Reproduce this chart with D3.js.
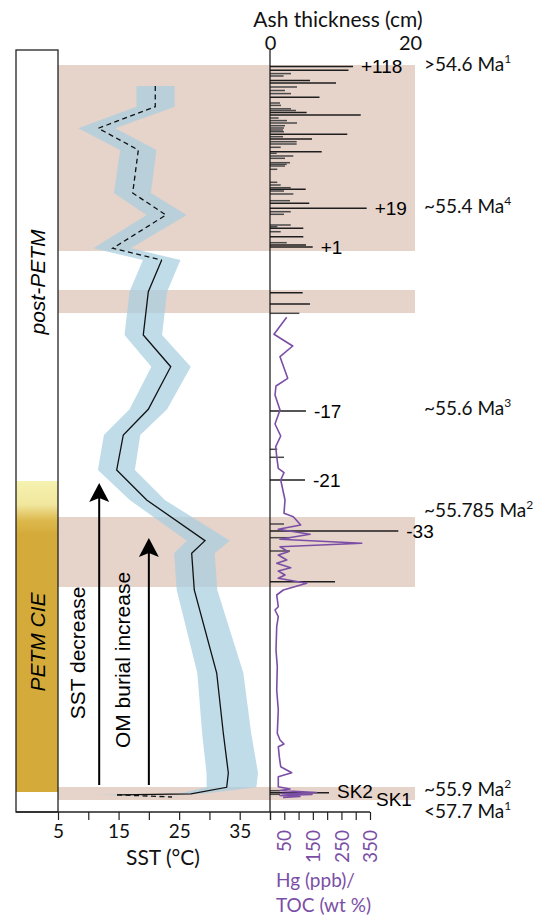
<!DOCTYPE html>
<html>
<head>
<meta charset="utf-8">
<script src="https://cdn.jsdelivr.net/npm/d3@7"></script>
<style>
  body { margin: 0; background: #fff; }
  svg { display: block; }
</style>
</head>
<body>
<div id="root"></div>
<script>
const width = 541;
const height = 918;

// depth below top of logged section (m) and SST (°C) with error envelope
const sstDepth = [3.6, 5.67, 7.83, 10, 14.3, 16.5, 19.83, 21, 24.17, 28.5, 31.67, 35.93, 38.5, 42, 45,
  49.07, 50.33, 54, 62.3, 68.3, 72.3, 73.73, 74.38, 74.48, 74.7];
const sstValue = [21.06, 21.06, 11.65, 18.26, 17.33, 22.83, 14.03, 22.12, 19.91, 19.08, 23.61, 19.91, 15.78, 14.69, 19.64,
  29.27, 27.07, 27.5, 31.2, 32.29, 33.12, 32.85, 26.96, 14.74, 23.82];
const sstErrLo = [3.1, 3.1, 3.3, 3.0, 3.1, 3.2, 3.2, 3.1, 3.1, 3.1, 3.2, 3.1, 3.2, 3.1, 2.8,
  3.0, 2.9, 2.9, 3.2, 3.5, 3.6, 3.3, 2.0, 3.0, 1.0];
const sstErrHi = [3.2, 3.2, 2.8, 3.0, 3.0, 3.4, 3.0, 3.1, 3.1, 3.1, 3.3, 3.1, 2.8, 3.0, 3.0,
  4.1, 3.8, 3.8, 4.4, 4.6, 4.9, 4.9, 2.0, 0.5, 1.0];
// index ranges: dashed (post-PETM), solid, dashed (pre-PETM)
const sstSegments = [[0, 7, true], [7, 23, false], [23, 24, true]];

// ash layers: depth (m) and thickness (cm)
const ashDepth = [1.65, 2.03, 2.36, 2.6, 3.04, 3.3, 3.7, 4.05, 4.36, 4.73, 5.3, 5.54, 5.88, 6.05, 6.25, 6.49,
  6.8, 7.06, 7.3, 7.57, 7.8, 8.0, 8.17, 8.43, 8.67, 8.9, 9.17, 9.4, 9.73, 10.17, 10.33, 10.6, 10.83,
  11.27, 11.43, 11.6, 11.93, 13.23, 13.5, 13.77, 13.93, 14.1, 14.4, 15.07, 15.33, 15.83, 16.17, 16.43,
  17.5, 17.67, 17.83, 18.17, 18.67, 19.27, 19.5, 19.7,
  24.27, 25.4, 26.33, 36.1, 39.93, 40.73, 43.0,
  47.4, 48.1, 48.77, 50.1, 53.17, 74.07, 74.27, 74.43];
const ashThick = [11.86, 11.21, 3.0, 1.94, 5.71, 9.43, 3.86, 2.14, 3.0, 7.07, 1.43, 1.57, 3.0, 3.71, 5.23, 12.96,
  1.23, 2.43, 3.86, 2.14, 2.0, 1.86, 2.0, 11.04, 1.86, 6.0, 3.81, 3.81, 1.53, 7.39, 0.96, 3.33, 2.14,
  2.86, 2.39, 2.14, 1.04, 1.04, 1.53, 2.96, 5.1, 2.0, 3.33, 2.86, 5.61, 13.81, 2.96, 2.0,
  2.96, 1.04, 4.76, 1.53, 4.76, 2.39, 5.14, 6.1,
  4.67, 5.71, 4.19, 5.14, 1.04, 2.0, 5.0,
  2.0, 18.33, 2.86, 2.86, 9.29, 1.43, 8.43, 1.43];

// ash layer notes
const noteText = ['+118', '+19', '+1', '-17', '-21', '-33', 'SK2', 'SK1'];
const noteDepth = [1.65, 15.83, 19.7, 36.1, 43.0, 48.1, 74.1, 74.95];
const noteCm = [11.86, 13.81, 6.1, 5.14, 5.0, 18.33, 8.43, 14.0];

// Hg/TOC (ppb / wt %)
const hgDepth = [26.73, 28.43, 29.6, 30.67, 32.83, 33.6, 34.5, 36, 37.4, 38.6, 39.67, 40.67, 41.83, 42.27, 43,
  45, 46.33, 46.67, 47.5, 47.93, 48.43, 48.93, 49.33, 49.67, 50.17, 50.5, 51, 51.33, 51.77, 52.1, 52.5,
  52.83, 53.33, 54, 54.5, 55.67, 56, 56.67, 57.67, 60, 61.67, 64, 66, 68.33, 69, 69.4, 69.67, 70.67,
  71.67, 72.27, 72.67, 73.67, 73.9, 74.05, 74.25, 74.35, 74.45, 74.55, 74.65, 74.75];
const hgValue = [58.5, 14, 79.5, 35, 62, 21, 17.5, 35, 17.5, 37.5, 20, 23.5, 29, 49, 37.5,
  52.5, 49, 81.5, 107.5, 29, 140, 35, 321, 35, 64, 29, 58.5, 23.5, 72.5, 29, 52.5,
  29, 128.5, 46.5, 23.5, 29, 17.5, 29, 23.5, 21, 25.5, 23.5, 29, 25.5, 35, 49, 29, 32.5,
  37.5, 76, 29, 29, 70, 35, 163, 42, 147, 35, 105, 45.5];

// intervals
const ashBands = [[1.5, 20.1], [24.0, 26.3], [46.7, 53.7], [73.7, 75.0]];
const cieTop = 43.1, cieFull = 47.0, cieBase = 74.2;

// ages
const ageText = ['>54.6 Ma', '~55.4 Ma', '~55.6 Ma', '~55.785 Ma', '~55.9 Ma', '<57.7 Ma'];
const ageSup = ['1', '4', '3', '2', '2', '1'];
const ageDepth = [2.1, 16.3, 36.5, 46.7, 74.6, 76.8];

// trend arrows (SST x position, base depth, tip depth) and labels
const arrowSst = [11.8, 20.0];
const arrowTip = [43.3, 48.8];
const arrowBase = 73.5;
const arrowText = ['SST decrease', 'OM burial increase'];
const arrowTextSst = [8.3, 15.7];
const arrowTextDepth = [60.3, 61.0];

const sstTicks = [5, 10, 15, 20, 25, 30, 35, 40];
const hgTicks = [0, 50, 100, 150, 200, 250, 300, 350];

const calibri = 'Lato, "Open Sans", sans-serif';
const arial = '"Liberation Sans", Arial, sans-serif';
const purple = '#7b4ea6';

const y = d3.scaleLinear().domain([0, 76.2]).range([50, 812]);
const xSst = d3.scaleLinear().domain([5, 40]).range([58, 270]);
const xAsh = d3.scaleLinear().domain([0, 20]).range([270, 410]);
const xHg = d3.scaleLinear().domain([0, 350]).range([270, 370]);
const boxL = 16, boxR = 58, bandR = 415;

const svg = d3.select('#root').append('svg')
  .attr('width', width)
  .attr('height', height);

const defs = svg.append('defs');
const grad = defs.append('linearGradient')
  .attr('id', 'cie')
  .attr('gradientUnits', 'userSpaceOnUse')
  .attr('x1', 0).attr('x2', 0)
  .attr('y1', y(cieTop)).attr('y2', y(cieFull) + 14);
grad.append('stop').attr('offset', '0%').attr('stop-color', '#f6f2b0');
grad.append('stop').attr('offset', '45%').attr('stop-color', '#f1e69d');
grad.append('stop').attr('offset', '75%').attr('stop-color', '#dcb84c');
grad.append('stop').attr('offset', '100%').attr('stop-color', '#d4ab3a');

// ash intervals
svg.append('g').selectAll('rect')
  .data(ashBands)
  .enter().append('rect')
  .attr('x', boxR)
  .attr('y', d => y(d[0]))
  .attr('width', bandR - boxR)
  .attr('height', d => y(d[1]) - y(d[0]))
  .attr('fill', '#e6d3ca');

// left column
svg.append('rect')
  .attr('x', boxL).attr('y', y(cieTop))
  .attr('width', boxR - boxL).attr('height', y(cieBase) - y(cieTop))
  .attr('fill', 'url(#cie)');
svg.append('rect')
  .attr('x', boxL).attr('y', y(0))
  .attr('width', boxR - boxL).attr('height', 812 - y(0))
  .attr('fill', 'none')
  .attr('stroke', '#222')
  .attr('stroke-width', 1.3);

svg.append('text')
  .attr('transform', `translate(${(boxL + boxR) / 2 + 1},${y(23.2)}) rotate(-90)`)
  .attr('text-anchor', 'middle')
  .attr('dy', '0.35em')
  .style('font', `italic 21px ${arial}`)
  .text('post-PETM');
svg.append('text')
  .attr('transform', `translate(${(boxL + boxR) / 2 + 1},${y(59.2)}) rotate(-90)`)
  .attr('text-anchor', 'middle')
  .attr('dy', '0.35em')
  .style('font', `italic 21px ${arial}`)
  .text('PETM CIE');

// SST envelope
const sstPts = sstDepth.map((d, i) => ({d, v: sstValue[i], lo: sstErrLo[i], hi: sstErrHi[i]}));
svg.append('path')
  .datum(sstPts)
  .attr('d', d3.area()
    .y(p => y(p.d))
    .x0(p => xSst(p.v - p.lo))
    .x1(p => xSst(p.v + p.hi)))
  .attr('fill', 'rgb(168,206,224)')
  .attr('fill-opacity', 0.72);

const sstLine = d3.line().x(p => xSst(p.v)).y(p => y(p.d));
sstSegments.forEach(([a, b, dashed]) => {
  svg.append('path')
    .datum(sstPts.slice(a, b + 1))
    .attr('d', sstLine)
    .attr('fill', 'none')
    .attr('stroke', '#111')
    .attr('stroke-width', 1.3)
    .attr('stroke-dasharray', dashed ? '5,3.5' : null);
});

// arrows
arrowSst.forEach((v, i) => {
  const x = xSst(v), tip = y(arrowTip[i]);
  svg.append('line')
    .attr('x1', x).attr('x2', x)
    .attr('y1', y(arrowBase)).attr('y2', tip + 12)
    .attr('stroke', '#000')
    .attr('stroke-width', 2);
  svg.append('path')
    .attr('d', `M${x},${tip} L${x + 10},${tip + 19} L${x},${tip + 15} L${x - 10},${tip + 19} Z`)
    .attr('fill', '#000');
  svg.append('text')
    .attr('transform', `translate(${xSst(arrowTextSst[i])},${y(arrowTextDepth[i])}) rotate(-90)`)
    .attr('text-anchor', 'middle')
    .attr('dy', '0.35em')
    .style('font', `21px ${arial}`)
    .text(arrowText[i]);
});

// ash thickness bars
svg.append('g').selectAll('line')
  .data(ashDepth)
  .enter().append('line')
  .attr('x1', xAsh(0))
  .attr('x2', (d, i) => xAsh(ashThick[i]))
  .attr('y1', d => y(d))
  .attr('y2', d => y(d))
  .attr('stroke', (d, i) => ashThick[i] > 4.5 ? '#1e1e1e' : '#4a4a4a')
  .attr('stroke-width', 1.5);

// Hg/TOC
svg.append('path')
  .datum(hgDepth.map((d, i) => [hgValue[i], d]))
  .attr('d', d3.line().x(p => xHg(p[0])).y(p => y(p[1])))
  .attr('fill', 'none')
  .attr('stroke', purple)
  .attr('stroke-width', 1.6)
  .attr('stroke-linejoin', 'round');

// central axis line
svg.append('line')
  .attr('x1', 270).attr('x2', 270)
  .attr('y1', y(0)).attr('y2', 812)
  .attr('stroke', '#111')
  .attr('stroke-width', 1.2);

// notes on ash layers
svg.append('g').selectAll('text')
  .data(noteText)
  .enter().append('text')
  .attr('x', (t, i) => xAsh(noteCm[i]) + 8)
  .attr('y', (t, i) => y(noteDepth[i]))
  .attr('dy', '0.35em')
  .style('font', `19px ${arial}`)
  .text(t => t);

// ages
const ages = svg.append('g').selectAll('text')
  .data(ageText)
  .enter().append('text')
  .attr('x', 424)
  .attr('y', (t, i) => y(ageDepth[i]))
  .style('font', `19px ${calibri}`)
  .attr('fill', '#111');
ages.append('tspan').text(t => t);
ages.append('tspan')
  .attr('dy', -8)
  .style('font-size', '12px')
  .text((t, i) => ageSup[i]);

// top axis: ash thickness
const ashAxis = svg.append('g')
  .attr('transform', `translate(0,${y(0) + 1})`)
  .call(d3.axisTop(xAsh).tickValues([0, 20]).tickSize(0).tickPadding(1));
ashAxis.select('.domain').remove();
ashAxis.selectAll('text').style('font', `20px ${calibri}`).attr('fill', '#111');
svg.append('text')
  .attr('x', 338).attr('y', 27)
  .attr('text-anchor', 'middle')
  .style('font', `21px ${calibri}`)
  .attr('fill', '#111')
  .text('Ash thickness (cm)');

// bottom axes
svg.append('line')
  .attr('x1', boxL).attr('x2', xHg(350))
  .attr('y1', 812).attr('y2', 812)
  .attr('stroke', '#222')
  .attr('stroke-width', 1.3);

const sstAxis = svg.append('g')
  .attr('transform', 'translate(0,812)')
  .call(d3.axisBottom(xSst).tickValues(sstTicks).tickSize(8).tickPadding(5)
    .tickFormat(d => d % 10 === 5 ? d : ''));
sstAxis.select('.domain').remove();
sstAxis.selectAll('line').attr('stroke', '#222').attr('stroke-width', 1.2);
sstAxis.selectAll('text').style('font', `19px ${calibri}`).attr('fill', '#111');

const hgAxis = svg.append('g')
  .attr('transform', 'translate(0,812)')
  .call(d3.axisBottom(xHg).tickValues(hgTicks).tickSize(8)
    .tickFormat(d => d % 100 === 50 ? d : ''));
hgAxis.select('.domain').remove();
hgAxis.selectAll('line').attr('stroke', '#222').attr('stroke-width', 1.2);
hgAxis.selectAll('text')
  .attr('transform', 'rotate(-90)')
  .attr('x', -18).attr('y', 0).attr('dy', '0.35em')
  .attr('text-anchor', 'end')
  .style('font', `19px ${calibri}`)
  .attr('fill', purple);

svg.append('text')
  .attr('x', 163).attr('y', 865)
  .attr('text-anchor', 'middle')
  .style('font', `21px ${calibri}`)
  .attr('fill', '#111')
  .text('SST (°C)');
svg.append('text')
  .attr('x', 276).attr('y', 887)
  .style('font', `19px ${calibri}`)
  .attr('fill', purple)
  .text('Hg (ppb)/');
svg.append('text')
  .attr('x', 276).attr('y', 912)
  .style('font', `19px ${calibri}`)
  .attr('fill', purple)
  .text('TOC (wt %)');
</script>
</body>
</html>
